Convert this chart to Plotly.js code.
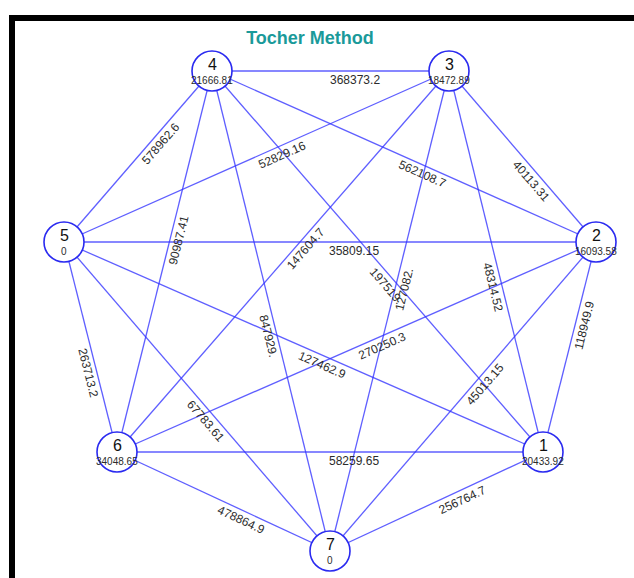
<!DOCTYPE html>
<html>
<head>
<meta charset="utf-8">
<script src="https://cdn.plot.ly/plotly-3.0.1.min.js"></script>
<style>html,body{margin:0;padding:0;background:#fff;}#chart{width:634px;height:578px;}</style>
</head>
<body>
<div id="chart"></div>
<script>
// ---- data ----
const nodeIds = [1, 2, 3, 4, 5, 6, 7];
const nodeValues = ["20433.92", "16093.58", "18472.89", "21666.81", "0", "34048.65", "0"];
// circle layout of the graph (plot units)
const nodeX = [543, 596, 449, 212, 64, 117, 330];
const nodeY = [452, 242, 71, 71, 242, 452, 551];

const edgeFrom = [4, 4, 5, 4, 3, 5, 4, 3, 4, 4, 3, 3, 2, 5, 5, 6, 7, 5, 6, 6, 7];
const edgeTo   = [3, 5, 3, 2, 2, 2, 6, 6, 7, 1, 7, 1, 1, 6, 1, 2, 2, 7, 1, 7, 1];
const edgeLabels = ["368373.2", "578962.6", "52829.16", "562108.7", "40113.31", "35809.15",
  "90987.41", "147604.7", "847929.", "197519.", "127082.", "48314.52", "118949.9",
  "263713.2", "127462.9", "270250.3", "45013.15", "67783.61", "58259.65", "478864.9", "256764.7"];

const titleText = "Tocher Method";

// ---- styles ----
const edgeColor = "rgba(50,50,255,0.78)";
const nodeLine = "#2a2af0";
const labelFont = "Liberation Sans, Arial, sans-serif";
const alongOffset = 24, perpOffset = 9;

function pos(id) { const i = nodeIds.indexOf(id); return [nodeX[i], nodeY[i]]; }

const ex = [], ey = [];
const annotations = [];
edgeFrom.forEach((f, k) => {
  const [x1, y1] = pos(f), [x2, y2] = pos(edgeTo[k]);
  ex.push(x1, x2, null); ey.push(y1, y2, null);
  let ang = Math.atan2(y2 - y1, x2 - x1) * 180 / Math.PI;
  if (ang > 90) ang -= 180;
  if (ang < -90) ang += 180;
  const r = ang * Math.PI / 180;
  const ux = Math.cos(r), uy = Math.sin(r);
  const nx = -Math.sin(r), ny = Math.cos(r);
  const mx = (x1 + x2) / 2 + alongOffset * ux + perpOffset * nx;
  const my = (y1 + y2) / 2 + alongOffset * uy + perpOffset * ny;
  annotations.push({
    x: mx, y: my, xref: "x", yref: "y", text: edgeLabels[k], showarrow: false,
    textangle: ang, xanchor: "center", yanchor: "middle",
    font: {family: labelFont, size: 12, color: "#2b2b2b"}
  });
});

nodeIds.forEach((id, i) => {
  annotations.push({
    x: nodeX[i], y: nodeY[i] - 4, xref: "x", yref: "y", text: String(id), showarrow: false,
    xanchor: "center", yanchor: "bottom", yshift: -7, borderpad: 0,
    font: {family: labelFont, size: 16, color: "#111"}
  });
  annotations.push({
    x: nodeX[i], y: nodeY[i] + 3, xref: "x", yref: "y", text: nodeValues[i], showarrow: false,
    xanchor: "center", yanchor: "top", borderpad: 0,
    font: {family: labelFont, size: 10, color: "#2b2b2b"}
  });
});

const traces = [
  {x: ex, y: ey, mode: "lines", line: {color: edgeColor, width: 1.3}, hoverinfo: "skip", showlegend: false},
  {x: nodeX, y: nodeY, mode: "markers", hoverinfo: "skip", showlegend: false,
   marker: {size: 40, color: "#ffffff", line: {color: nodeLine, width: 1.6}}}
];

const layout = {
  width: 634, height: 578,
  margin: {l: 0, r: 0, t: 0, b: 0},
  paper_bgcolor: "#ffffff", plot_bgcolor: "#ffffff",
  xaxis: {range: [0, 634], visible: false, fixedrange: true},
  yaxis: {range: [578, 0], visible: false, fixedrange: true},
  title: {text: "<b>" + titleText + "</b>", x: 310 / 634, y: 1 - 38 / 578, xanchor: "center", yanchor: "middle",
          font: {family: labelFont, size: 18, color: "#1a9a9a"}},
  shapes: [{type: "rect", xref: "x", yref: "y", x0: 12, y0: 18, x1: 660, y1: 600,
            line: {color: "#000", width: 6}, layer: "below"}],
  annotations: annotations
};

Plotly.newPlot("chart", traces, layout, {displayModeBar: false, staticPlot: true});
</script>
</body>
</html>
